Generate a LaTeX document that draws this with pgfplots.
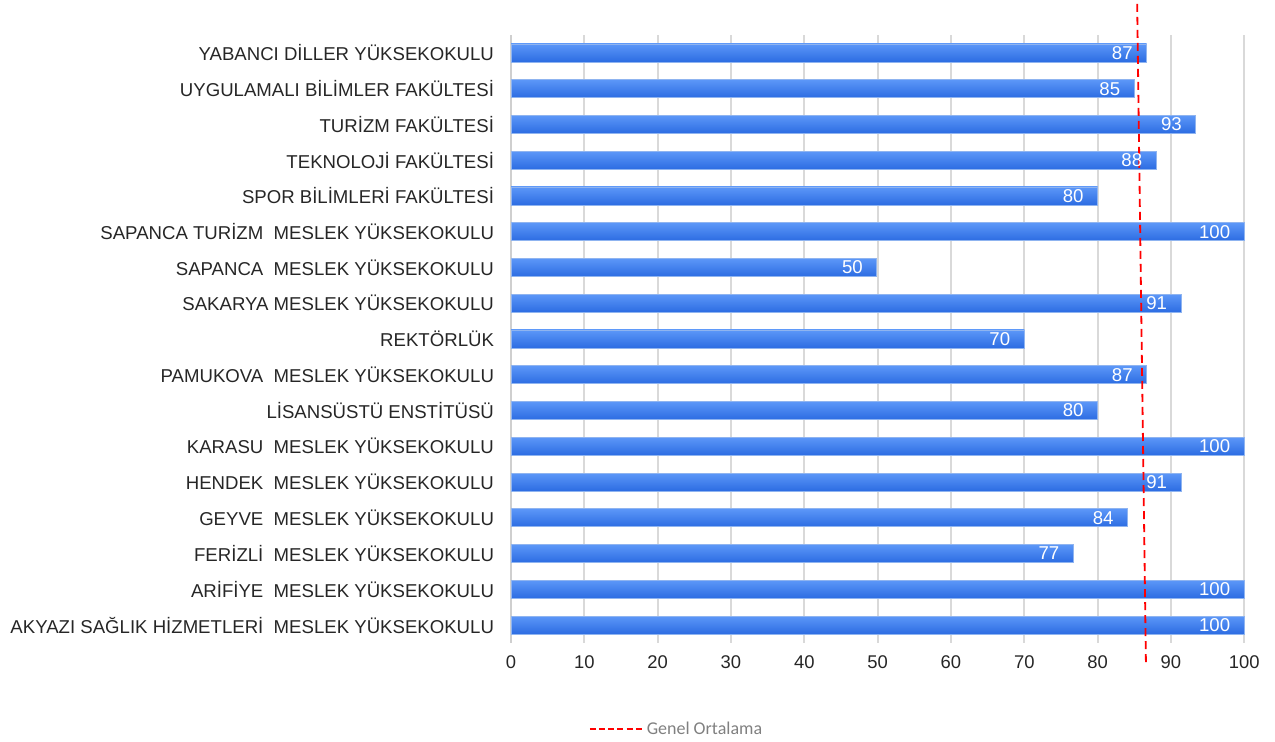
\documentclass[border=0pt]{standalone}
\usepackage{pgfplots}
\pgfplotsset{compat=1.18}
\usepackage{fontspec}
\setmainfont{Liberation Sans}
\newfontfamily\legfont{Carlito}
\definecolor{gridc}{HTML}{D9D9D9}
\definecolor{axc}{HTML}{CFCFCF}
\definecolor{bartop}{HTML}{5C97F8}
\definecolor{barbot}{HTML}{2C6CE2}
\definecolor{bardraw}{HTML}{8FB4F0}
\definecolor{leggray}{HTML}{808080}
\pgfplotsset{
  onebar/.style={xbar, bar width=9pt, bar shift=0pt, forget plot,
    draw=bardraw, line width=0.4pt, top color=bartop, bottom color=barbot,
    nodes near coords, point meta=x,
    nodes near coords style={anchor=east, xshift=-3.5pt, text=white,
      font=\fontsize{9.3}{10}\selectfont,
      /pgf/number format/.cd, fixed, precision=0, assume math mode=true}},
}
\begin{document}
\begin{tikzpicture}
\begin{axis}[
  x=3.665pt, y=17.875pt,
  xmin=0, xmax=100, ymin=-0.5, ymax=16.5,
  clip=false,
  axis x line*=bottom, axis y line*=left,
  x axis line style={draw=none},
  y axis line style={draw=axc, line width=1pt},
  xmajorgrids, grid style={draw=gridc, line width=1pt},
  major tick length=0pt,
  xtick={0,10,...,100},
  ytick={0,...,16},
  yticklabels={
    AKYAZI SAĞLIK HİZMETLERİ~ MESLEK YÜKSEKOKULU,
    ARİFİYE~ MESLEK YÜKSEKOKULU,
    FERİZLİ~ MESLEK YÜKSEKOKULU,
    GEYVE~ MESLEK YÜKSEKOKULU,
    HENDEK~ MESLEK YÜKSEKOKULU,
    KARASU~ MESLEK YÜKSEKOKULU,
    LİSANSÜSTÜ ENSTİTÜSÜ,
    PAMUKOVA~ MESLEK YÜKSEKOKULU,
    REKTÖRLÜK,
    SAKARYA MESLEK YÜKSEKOKULU,
    SAPANCA~ MESLEK YÜKSEKOKULU,
    SAPANCA TURİZM~ MESLEK YÜKSEKOKULU,
    SPOR BİLİMLERİ FAKÜLTESİ,
    TEKNOLOJİ FAKÜLTESİ,
    TURİZM FAKÜLTESİ,
    UYGULAMALI BİLİMLER FAKÜLTESİ,
    YABANCI DİLLER YÜKSEKOKULU},
  yticklabel style={font=\fontsize{9.3}{10}\selectfont, text=black!85, xshift=-5pt},
  xticklabel style={font=\fontsize{9.2}{10}\selectfont, text=black!85, yshift=-3pt},
  /pgf/number format/assume math mode=true,
  legend style={at={(0.227,-0.142)}, anchor=center, draw=none, fill=none,
    font=\legfont\fontsize{9}{10}\selectfont, text=leggray,
    inner sep=0pt, /tikz/every even column/.append style={column sep=2pt}},
  legend cell align=left,
]
\addplot[onebar] coordinates {(100,0)};
\addplot[onebar] coordinates {(100,1)};
\addplot[onebar] coordinates {(76.7,2)};
\addplot[onebar] coordinates {(84.1,3)};
\addplot[onebar] coordinates {(91.4,4)};
\addplot[onebar] coordinates {(100,5)};
\addplot[onebar] coordinates {(80,6)};
\addplot[onebar] coordinates {(86.7,7)};
\addplot[onebar] coordinates {(70,8)};
\addplot[onebar] coordinates {(91.4,9)};
\addplot[onebar] coordinates {(49.9,10)};
\addplot[onebar] coordinates {(100,11)};
\addplot[onebar] coordinates {(80,12)};
\addplot[onebar] coordinates {(88,13)};
\addplot[onebar] coordinates {(93.4,14)};
\addplot[onebar] coordinates {(85,15)};
\addplot[onebar] coordinates {(86.7,16)};
\addplot[red, line width=0.9pt, dash pattern=on 4pt off 2.5pt,
  legend image code/.code={\draw[red, line width=1pt, dash pattern=on 3pt off 1.6pt] (0pt,0pt) -- (26pt,0pt);}]
  coordinates {(85.4,17.37) (86.6,-1.12)};
\addlegendentry{Genel Ortalama}
\coordinate (bl) at (axis cs:-69.7,-3.27);
\coordinate (tr) at (axis cs:104.2,17.48);
\end{axis}
\pgfresetboundingbox
\path (bl) rectangle (tr);
\end{tikzpicture}
\end{document}
